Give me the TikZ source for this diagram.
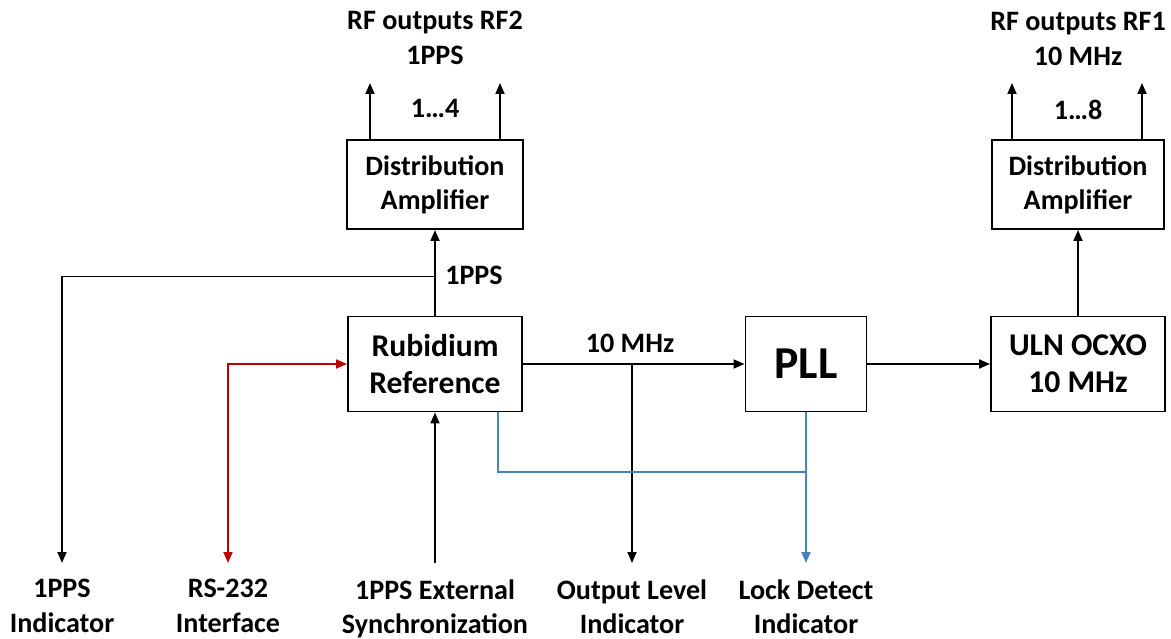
\documentclass[tikz,border=0pt]{standalone}
\usepackage{fontspec}
\setmainfont{Carlito}
\usetikzlibrary{arrows.meta,positioning,calc}
\definecolor{LinkRed}{RGB}{192,0,0}
\definecolor{LinkBlue}{RGB}{70,130,190}

\begin{document}
\begin{tikzpicture}[x=0.2mm,y=-0.2mm,
  >={Triangle[length=2.2mm,width=1.8mm]},
  txt/.style={align=center,font=\fontsize{16}{19.5}\selectfont\bfseries},
  blk/.style={txt,draw,line width=1.1pt},
  bigtxt/.style={font=\fontsize{18}{21}\selectfont\bfseries},
  lbl/.style={txt,inner xsep=0pt,inner ysep=3.2mm,anchor=north},
  wire/.style={line width=1pt}]
\useasboundingbox (0,0) rectangle (1171,639);

% blocks
\node[blk,bigtxt,minimum width=34.8mm,minimum height=19mm] (rub) at (435,364) {Rubidium\\Reference};
\node[blk,minimum width=24.2mm,minimum height=19mm,font=\fontsize{26}{30}\selectfont\bfseries] (pll) at (806,364) {PLL};
\node[blk,bigtxt,minimum width=34.8mm,minimum height=19mm] (ocxo) at (1078,364) {ULN OCXO\\10 MHz};
\node[blk,minimum width=35.2mm,minimum height=17.8mm] (distL) at (435,184.5) {Distribution\\Amplifier};
\node[blk,minimum width=34.4mm,minimum height=17.8mm] (distR) at (1078,184.5) {Distribution\\Amplifier};

% outputs on top
\node[txt] (rf2) at (435,38) {RF outputs RF2\\1PPS};
\node[txt] (cnt4) at (435,108) {1…4};
\node[txt] (rf1) at (1078,39) {RF outputs RF1\\10 MHz};
\node[txt] (cnt8) at (1078,110) {1…8};
\coordinate (l1) at (370,83);
\coordinate (l2) at (500,83);
\coordinate (r1) at (1012,83);
\coordinate (r2) at (1142,83);

% indicators and inputs at the bottom
\node[lbl] (ppsind) at (62,563) {1PPS\\Indicator};
\node[lbl] (rs) at (228,563) {RS-232\\Interface};
\node[lbl] (sync) at (435,563) {1PPS External\\Synchronization};
\node[lbl] (outl) at (632,563) {Output Level\\Indicator};
\node[lbl] (lock) at (806,563) {Lock Detect\\Indicator};

% signal labels
\node[txt] (ppstxt) at (474,275) {1PPS};
\node[txt] (mhztxt) at (630,343) {10 MHz};

\path (rub.north) ++(0,-39) coordinate (ppsj);
\coordinate (bj) at (498,472);

% connections
\draw[wire,->] (rub) -- (distL);
\draw[wire,->] (ppsj) -| (ppsind);
\draw[wire,->] (sync) -- (rub);
\draw[wire,<->,LinkRed] (rs) |- (rub.west);
\draw[wire,->] (rub) -- (pll);
\draw[wire,->] (rub.east -| outl) -- (outl);
\draw[wire,LinkBlue] (rub.south -| bj) |- (lock |- bj);
\draw[wire,->,LinkBlue] (pll) -- (lock);
\draw[wire,->] (pll) -- (ocxo);
\draw[wire,->] (ocxo) -- (distR);

\draw[wire,->] (distL.north -| l1) -- (l1);
\draw[wire,->] (distL.north -| l2) -- (l2);
\draw[wire,->] (distR.north -| r1) -- (r1);
\draw[wire,->] (distR.north -| r2) -- (r2);

\end{tikzpicture}
\end{document}
